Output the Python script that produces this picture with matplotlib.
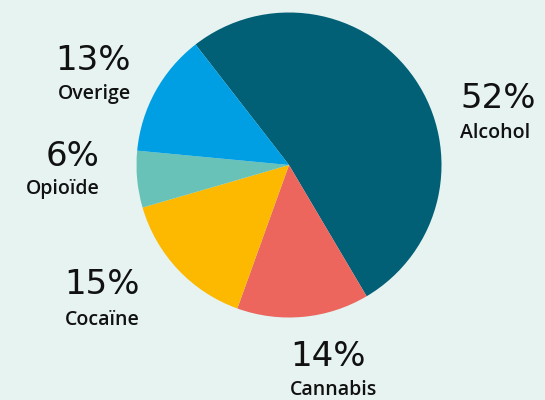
import matplotlib.pyplot as plt

labels = ['Alcohol', 'Cannabis', 'Cocaïne', 'Opioïde', 'Overige']
shares = [52, 14, 15, 6, 13]
colors = ['#015f76', '#ec665e', '#fcb900', '#68c2b7', '#009ee3']

# label anchor (x, y of percentage, y of name) in pixel units, alignment
label_pos = {
    'Alcohol': (460, 98, 133, 'left'),
    'Cannabis': (290, 357, 390, 'left'),
    'Cocaïne': (140, 285, 320, 'right'),
    'Opioïde': (100, 157, 189, 'right'),
    'Overige': (131, 60, 94, 'right'),
}

bg = '#e6f3f1'
fig = plt.figure(figsize=(5.45, 4), dpi=100, facecolor=bg)
ax = fig.add_axes([0, 0, 1, 1])
ax.set_facecolor(bg)

ax.pie(shares, colors=colors, startangle=127.8, counterclock=False,
       center=(289, 400 - 165), radius=152.5,
       wedgeprops={'linewidth': 0}, frame=True)

for name, share in zip(labels, shares):
    x, y_pct, y_name, ha = label_pos[name]
    ax.text(x, 400 - y_pct, f'{share}%', ha=ha, va='center',
            fontsize=24.5, family='DejaVu Sans', color='#111111')
    ax.text(x, 400 - y_name, name, ha=ha, va='center',
            fontsize=14, family='Open Sans', fontweight='semibold', color='#111111')

ax.set_xlim(0, 545)
ax.set_ylim(0, 400)
ax.set_aspect('equal')
ax.axis('off')

fig.savefig('out.png', dpi=100, facecolor=bg)
